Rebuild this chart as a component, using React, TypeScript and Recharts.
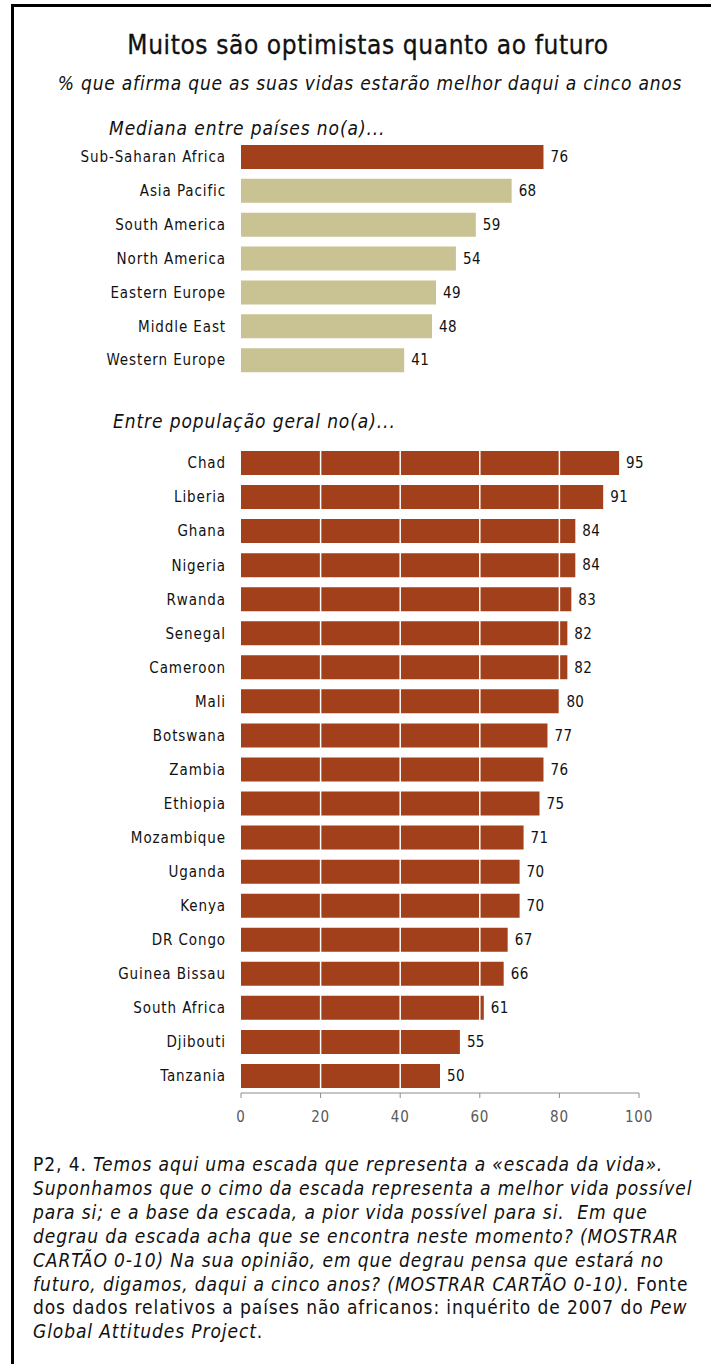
import React from 'react';
import { BarChart, Bar, XAxis, YAxis, LabelList, ReferenceLine, Cell } from 'recharts';

const regionNames = ['Sub-Saharan Africa', 'Asia Pacific', 'South America', 'North America', 'Eastern Europe', 'Middle East', 'Western Europe'];
const regionValues = [76, 68, 59, 54, 49, 48, 41];
const countryNames = ['Chad', 'Liberia', 'Ghana', 'Nigeria', 'Rwanda', 'Senegal', 'Cameroon', 'Mali', 'Botswana', 'Zambia', 'Ethiopia', 'Mozambique', 'Uganda', 'Kenya', 'DR Congo', 'Guinea Bissau', 'South Africa', 'Djibouti', 'Tanzania'];
const countryValues = [95, 91, 84, 84, 83, 82, 82, 80, 77, 76, 75, 71, 70, 70, 67, 66, 61, 55, 50];
const xTicks = [0, 20, 40, 60, 80, 100];
const gridValues = [20, 40, 60, 80];

const RUST = '#A1401A';
const TAN = '#C9C292';
const FONT = '"DejaVu Sans Condensed", "DejaVu Sans", sans-serif';
const TEXT = '#111111';

const regionData = regionNames.map((name, i) => ({ name, value: regionValues[i] }));
const countryData = countryNames.map((name, i) => ({ name, value: countryValues[i] }));

const abs = (top: number, left: number, extra: React.CSSProperties = {}): React.CSSProperties => ({
  position: 'absolute', top, left, whiteSpace: 'nowrap', fontFamily: FONT, color: TEXT, ...extra,
});

const footLines: Array<Array<[string, boolean]>> = [
  [['P2, 4. ', false], ['Temos aqui uma escada que representa a «escada da vida».', true]],
  [['Suponhamos que o cimo da escada representa a melhor vida possível', true]],
  [['para si; e a base da escada, a pior vida possível para si.\u00a0 Em que', true]],
  [['degrau da escada acha que se encontra neste momento? (MOSTRAR', true]],
  [['CARTÃO 0-10) Na sua opinião, em que degrau pensa que estará no', true]],
  [['futuro, digamos, daqui a cinco anos? (MOSTRAR CARTÃO 0-10).', true], [' Fonte', false]],
  [['dos dados relativos a países não africanos: inquérito de 2007 do ', false], ['Pew', true]],
  [['Global Attitudes Project', true], ['.', false]],
];

const tickStyle = { fill: TEXT, fontSize: 15, fontFamily: FONT, letterSpacing: 0.9 };
const valueStyle = { fill: TEXT, fontSize: 15, fontFamily: FONT, letterSpacing: 0.4 };

export default function App() {
  return (
    <div style={{ position: 'absolute', left: 0, top: 0, width: 711, height: 1364, background: '#fff', overflow: 'hidden' }}>
      <div style={{ position: 'absolute', left: 11, top: 4, width: 720, height: 1400, borderLeft: '3px solid #000', borderTop: '3px solid #000', boxSizing: 'border-box' }} />
      <div style={abs(29, 0, { width: 736, textAlign: 'center', fontSize: 26, lineHeight: '32px', letterSpacing: 0.6, WebkitTextStroke: '0.3px #111' })}>Muitos são optimistas quanto ao futuro</div>
      <div style={abs(70, 0, { width: 740, textAlign: 'center', fontSize: 19, lineHeight: '26px', fontStyle: 'italic', letterSpacing: 0.8 })}>% que afirma que as suas vidas estarão melhor daqui a cinco anos</div>
      <div style={abs(115, 109, { fontSize: 19, lineHeight: '26px', fontStyle: 'italic', letterSpacing: 0.9 })}>Mediana entre países no(a)...</div>
      <div style={abs(408, 113, { fontSize: 19, lineHeight: '26px', fontStyle: 'italic', letterSpacing: 0.9 })}>Entre população geral no(a)...</div>

      <div style={{ position: 'absolute', left: 0, top: 130 }}>
        <BarChart width={711} height={258} data={regionData} layout="vertical" margin={{ top: 10, right: 72, bottom: 11, left: 0 }}>
          <XAxis type="number" domain={[0, 100]} hide />
          <YAxis type="category" dataKey="name" width={241} axisLine={false} tickLine={false} tickSize={0} tickMargin={15} tick={tickStyle} interval={0} />
          <Bar dataKey="value" barSize={24} isAnimationActive={false}>
            {regionData.map((d, i) => (
              <Cell key={d.name} fill={i === 0 ? RUST : TAN} />
            ))}
            <LabelList dataKey="value" position="right" offset={7} {...valueStyle} />
          </Bar>
        </BarChart>
      </div>

      <div style={{ position: 'absolute', left: 0, top: 430 }}>
        <BarChart width={711} height={716} data={countryData} layout="vertical" margin={{ top: 16, right: 72, bottom: 0, left: 0 }}>
          <XAxis type="number" domain={[0, 100]} ticks={xTicks} interval={0} height={53} axisLine={{ stroke: '#8c8c8c' }} tickLine={{ stroke: '#8c8c8c' }} tickSize={5} tickMargin={13} tick={{ fill: '#595959', fontSize: 15, fontFamily: FONT, letterSpacing: 0.8 }} />
          <YAxis type="category" dataKey="name" width={241} axisLine={false} tickLine={false} tickSize={0} tickMargin={15} tick={tickStyle} interval={0} />
          <Bar dataKey="value" barSize={24} fill={RUST} isAnimationActive={false}>
            <LabelList dataKey="value" position="right" offset={7} {...valueStyle} />
          </Bar>
          {gridValues.map((v) => (
            <ReferenceLine key={v} x={v} stroke="#ffffff" strokeWidth={1.5} />
          ))}
        </BarChart>
      </div>

      {footLines.map((line, i) => (
        <div key={i} style={abs(1151 + i * 23.9, 33, { fontSize: 19, lineHeight: '26px', letterSpacing: 0.9 })}>
          {line.map(([t, it], j) => (
            <span key={j} style={{ fontStyle: it ? 'italic' : 'normal' }}>{t}</span>
          ))}
        </div>
      ))}
    </div>
  );
}
